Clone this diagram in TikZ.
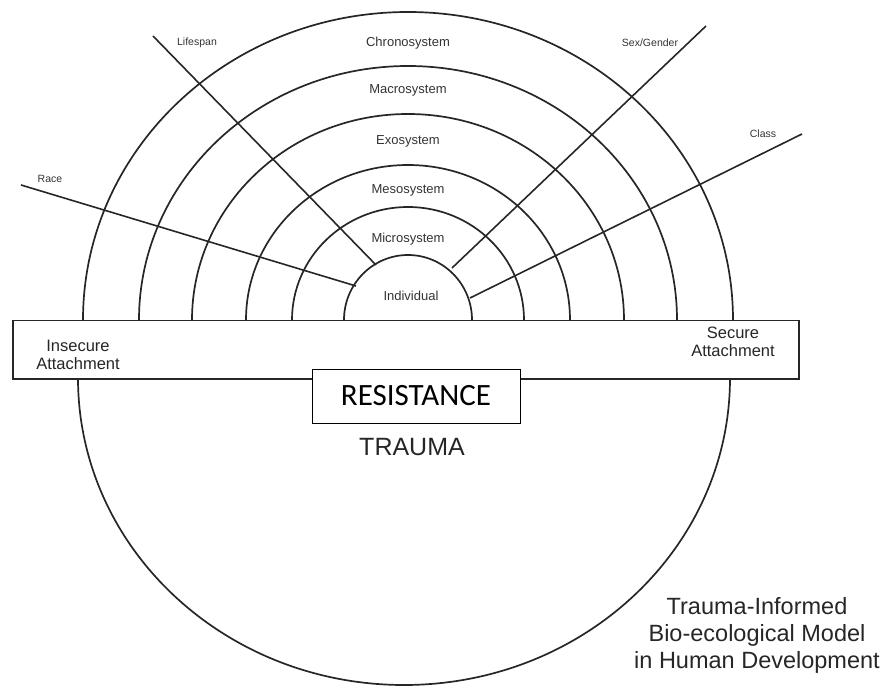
\documentclass[tikz,border=0pt]{standalone}
\usepackage{fontspec}
\setmainfont{Liberation Sans}
\newfontfamily\calibrifont{Carlito}
\usetikzlibrary{positioning}

\begin{document}
\begin{tikzpicture}[x=1pt, y=-1pt,
  ring/.style={line width=1.7pt, black!85},
  spoke/.style={line width=1.6pt, black!85},
  syslabel/.style={font=\fontsize{13}{15}\selectfont, text=black!80, inner sep=0pt},
  factor/.style={font=\fontsize{10.5}{12}\selectfont, text=black!80, inner sep=0pt},
  sidelabel/.style={font=\fontsize{16.5}{18.5}\selectfont, text=black!85, align=center, inner sep=0pt},
]
\useasboundingbox (0,0) rectangle (887,687);

% Rings above the bar
\draw[ring] (344,320) arc[start angle=180, end angle=360, x radius=64, y radius=65];
\draw[ring] (292,320) arc[start angle=180, end angle=360, x radius=116, y radius=113];
\draw[ring] (246,320) arc[start angle=180, end angle=360, x radius=162, y radius=155];
\draw[ring] (192,320) arc[start angle=180, end angle=360, x radius=216, y radius=206];
\draw[ring] (139,320) arc[start angle=180, end angle=360, x radius=269, y radius=254];
\draw[ring] (83,320) arc[start angle=180, end angle=360, x radius=325, y radius=308];

% Trauma half below the bar
\draw[ring] (78,378) arc[start angle=180, end angle=0, x radius=326, y radius=307];

% Ring labels
\node[syslabel] (chrono) at (408,43) {Chronosystem};
\node[syslabel] (macro) at (408,90) {Macrosystem};
\node[syslabel] (exo) at (408,141) {Exosystem};
\node[syslabel] (meso) at (408,190) {Mesosystem};
\node[syslabel] (micro) at (408,239) {Microsystem};
\node[syslabel] (indiv) at (411,296) {Individual};

% Spokes
\coordinate (lifeout) at (153,36);
\coordinate (lifein) at (376,265);
\coordinate (raceout) at (21,185);
\coordinate (racein) at (356,286);
\coordinate (sexout) at (706,26);
\coordinate (sexin) at (452,268);
\coordinate (classout) at (802,134);
\coordinate (classin) at (470,298);
\draw[spoke] (lifeout) -- (lifein);
\draw[spoke] (raceout) -- (racein);
\draw[spoke] (sexout) -- (sexin);
\draw[spoke] (classout) -- (classin);

\node[factor] (lifespan) at (197,43) {Lifespan};
\node[factor] (race) at (50,179) {Race};
\node[factor] (sexgender) at (650,43) {Sex/Gender};
\node[factor] (class) at (763,134) {Class};

% Attachment bar
\node[draw, line width=1.5pt, black!85, fill=white, anchor=north west, inner sep=0pt,
  minimum width=786pt, minimum height=58pt] (bar) at (12,320) {};
\node[sidelabel] (insecure) at (78,355) {Insecure\\Attachment};
\node[sidelabel] (secure) at (733,342) {Secure\\Attachment};

% Resistance and trauma
\node[draw, line width=1pt, fill=white, inner sep=0pt, minimum width=208pt, minimum height=54pt,
  font=\calibrifont\fontsize{31}{36}\selectfont] (resist) at (416,396) {RESISTANCE};
\node[font=\fontsize{25}{30}\selectfont, text=black!85, inner sep=0pt] (trauma) at (412,447) {TRAUMA};

% Title
\node[font=\fontsize{23.5}{27}\selectfont, text=black!85, align=center, inner sep=0pt] (title) at (757,635)
  {Trauma-Informed\\Bio-ecological Model\\in Human Development};

\end{tikzpicture}
\end{document}
